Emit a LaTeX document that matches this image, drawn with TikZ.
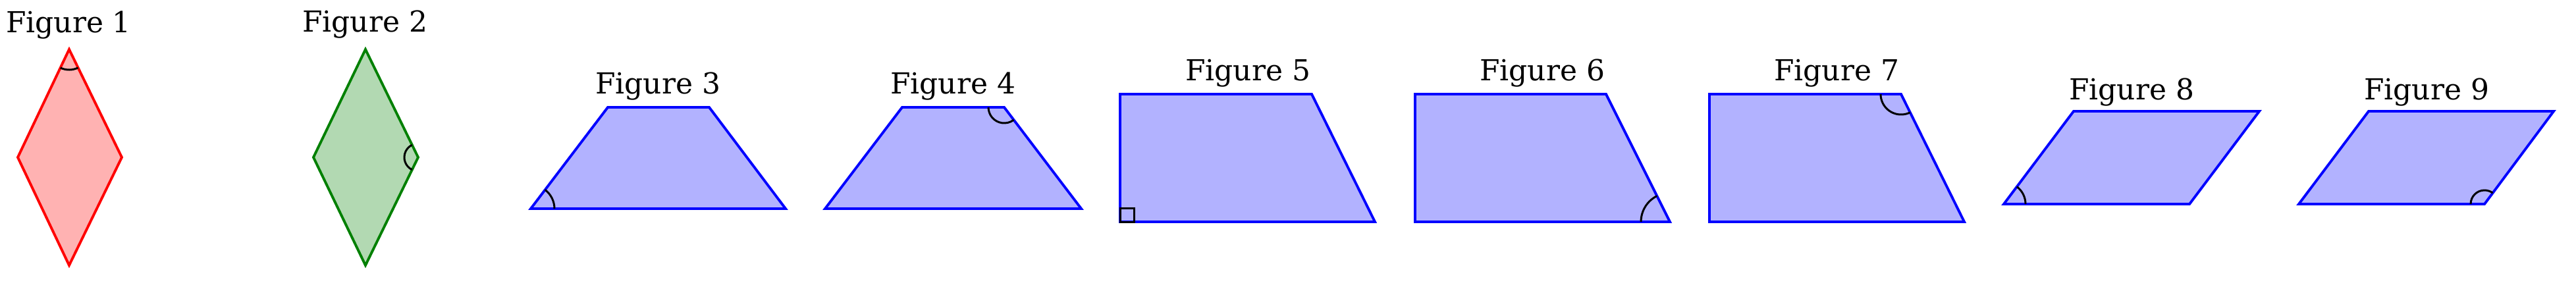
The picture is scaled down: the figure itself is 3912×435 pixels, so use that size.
\documentclass[tikz,border=0pt]{standalone}
\usepackage{fontspec}
\setmainfont{DejaVu Serif}
\usepackage{tikz}

\begin{document}
\begin{tikzpicture}[x=0.01cm, y=-0.01cm]
\definecolor{figgreen}{HTML}{008000}
\tikzstyle{red-shape}=[draw=red, fill=red!30, line width=1.1pt]
\tikzstyle{green-shape}=[draw=figgreen, fill=figgreen!30, line width=1.1pt]
\tikzstyle{blue-shape}=[draw=blue, fill=blue!30, line width=1.1pt]
\tikzstyle{angle-mark}=[black, line width=0.85pt]
\tikzstyle{title}=[anchor=base, inner sep=0pt, font=\fontsize{12.5}{15}\selectfont]
\useasboundingbox (0,0) rectangle (3912,435);

% rhombi
\coordinate (F1t) at (105,75);
\coordinate (F1l) at (27,239);
\coordinate (F1b) at (105,403);
\coordinate (F1r) at (185,239);
\coordinate (F2t) at (555,75);
\coordinate (F2l) at (476,239);
\coordinate (F2b) at (555,403);
\coordinate (F2r) at (635,239);

% trapezoids and parallelograms: a = bottom left, b = bottom right, c = top right, d = top left
\coordinate (F3a) at (806,317);  \coordinate (F3b) at (1193,317);
\coordinate (F3c) at (1077,163); \coordinate (F3d) at (923,163);
\coordinate (F4a) at (1253,317); \coordinate (F4b) at (1642,317);
\coordinate (F4c) at (1525,163); \coordinate (F4d) at (1370,163);
\coordinate (F5a) at (1701,337); \coordinate (F5b) at (2088,337);
\coordinate (F5c) at (1992,143); \coordinate (F5d) at (1701,143);
\coordinate (F6a) at (2149,337); \coordinate (F6b) at (2536,337);
\coordinate (F6c) at (2439,143); \coordinate (F6d) at (2149,143);
\coordinate (F7a) at (2596,337); \coordinate (F7b) at (2983,337);
\coordinate (F7c) at (2887,143); \coordinate (F7d) at (2596,143);
\coordinate (F8a) at (3043,310); \coordinate (F8b) at (3325,310);
\coordinate (F8c) at (3431,169); \coordinate (F8d) at (3149,169);
\coordinate (F9a) at (3491,310); \coordinate (F9b) at (3773,310);
\coordinate (F9c) at (3878,169); \coordinate (F9d) at (3597,169);

\draw[style=red-shape] (F1t) -- (F1l) -- (F1b) -- (F1r) -- cycle;
\draw[style=green-shape] (F2t) -- (F2l) -- (F2b) -- (F2r) -- cycle;
\foreach \N in {3,...,9}
  \draw[style=blue-shape] (F\N a) -- (F\N b) -- (F\N c) -- (F\N d) -- cycle;

\node[style=title] (T1) at (104,49) {Figure 1};
\node[style=title] (T2) at (554,48) {Figure 2};
\node[style=title] (T3) at (999,142) {Figure 3};
\node[style=title] (T4) at (1447,142) {Figure 4};
\node[style=title] (T5) at (1895,122) {Figure 5};
\node[style=title] (T6) at (2342,122) {Figure 6};
\node[style=title] (T7) at (2789,122) {Figure 7};
\node[style=title] (T8) at (3237,151) {Figure 8};
\node[style=title] (T9) at (3685,151) {Figure 9};

% angle marks
\draw[style=angle-mark] (F1t) ++(64:31) arc (64:115.4:31);
\draw[style=angle-mark] (F2r) ++(116:21) arc (116:244:21);
\draw[style=angle-mark] (F3a) ++(-52.8:36) arc (-52.8:0:36);
\draw[style=angle-mark] (F4c) ++(52.8:24) arc (52.8:180:24);
\draw[style=angle-mark] (F5a) rectangle ++(21,-21);
\draw[style=angle-mark] (F6b) ++(180:44) arc (180:243.4:44);
\draw[style=angle-mark] (F7c) ++(63.7:31) arc (63.7:180:31);
\draw[style=angle-mark] (F8a) ++(-53.1:33) arc (-53.1:0:33);
\draw[style=angle-mark] (F9b) ++(180:21) arc (180:306.7:21);

\end{tikzpicture}
\end{document}
